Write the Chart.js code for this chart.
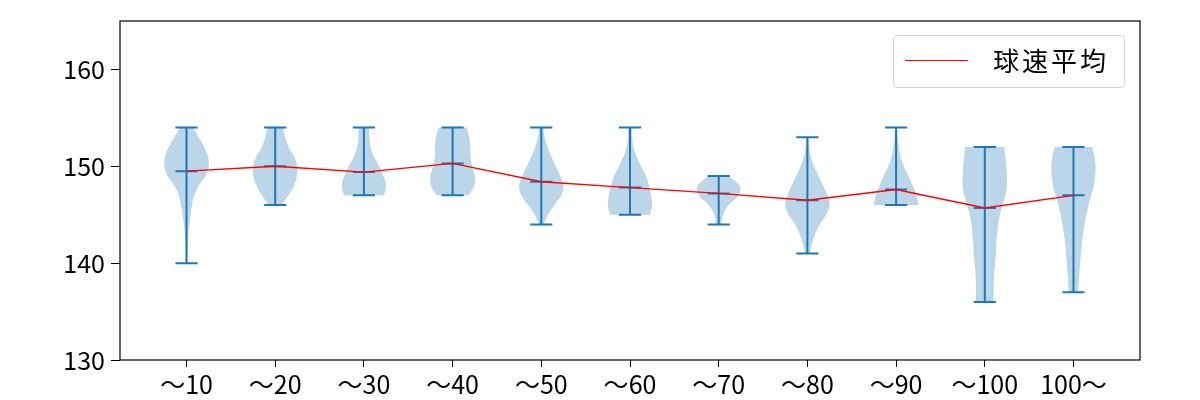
<!DOCTYPE html>
<html>
<head>
<meta charset="utf-8">
<script src="https://cdn.jsdelivr.net/npm/chart.js@4/dist/chart.umd.min.js"></script>
<style>
    html, body { margin: 0; padding: 0; background: #fff; }
    #wrap { position: relative; width: 1200px; height: 400px; }
    #legend {
        position: absolute; left: 893px; top: 35px; width: 232px; height: 53px;
        box-sizing: border-box; border: 1px solid #d5d5d5; border-radius: 4px;
        background: rgba(255,255,255,0.8);
        font-family: "Noto Sans CJK JP", sans-serif; font-size: 26px; color: #000;
    }
    #legend .swatch { position: absolute; left: 11px; top: 24px; width: 63px; height: 0; border-top: 1.4px solid #ff0000; }
    #legend .label { position: absolute; left: 99px; top: 6px; line-height: 36px; letter-spacing: 3px; }
</style>
</head>
<body>
<div id="wrap">
    <canvas id="chart" width="1200" height="400"></canvas>
    <div id="legend"><div class="swatch"></div><div class="label">球速平均</div></div>
</div>
<script>
// categories and stats per category
const categories = ['〜10', '〜20', '〜30', '〜40', '〜50', '〜60', '〜70', '〜80', '〜90', '〜100', '100〜'];
const minSpeed = [140, 146, 147, 147, 144, 145, 144, 141, 146, 136, 137];
const maxSpeed = [154, 154, 154, 154, 154, 154, 149, 153, 154, 152, 152];
const meanSpeed = [149.5, 150.0, 149.4, 150.3, 148.4, 147.8, 147.2, 146.5, 147.6, 145.7, 147.0];
const yTicks = [130, 140, 150, 160];

// relative violin width, one value per km/h from min to max
const density = [
    [0.03, 0.04, 0.05, 0.08, 0.12, 0.18, 0.25, 0.35, 0.55, 0.85, 1.0, 0.97, 0.8, 0.55, 0.3],
    [0.3, 0.6, 0.85, 0.98, 1.0, 0.85, 0.6, 0.45, 0.35],
    [0.9, 1.0, 0.88, 0.68, 0.45, 0.3, 0.25, 0.23],
    [0.72, 0.98, 1.0, 0.88, 0.8, 0.8, 0.75, 0.62],
    [0.1, 0.3, 0.6, 0.9, 1.0, 0.85, 0.65, 0.45, 0.28, 0.15, 0.1],
    [0.9, 1.0, 0.95, 0.85, 0.72, 0.5, 0.3, 0.15, 0.1, 0.08],
    [0.12, 0.2, 0.45, 0.9, 0.95, 0.45],
    [0.12, 0.2, 0.35, 0.55, 0.85, 1.0, 0.9, 0.72, 0.5, 0.3, 0.15, 0.08, 0.05],
    [1.0, 0.92, 0.75, 0.55, 0.35, 0.2, 0.12, 0.07, 0.05],
    [0.4, 0.4, 0.4, 0.42, 0.46, 0.5, 0.52, 0.56, 0.6, 0.68, 0.8, 0.93, 1.0, 1.0, 0.97, 0.93, 0.88],
    [0.2, 0.24, 0.27, 0.3, 0.34, 0.38, 0.43, 0.5, 0.58, 0.68, 0.8, 0.92, 0.98, 1.0, 0.95, 0.85]
];

const BLUE = '#1f77b4';
const FONT = '"Noto Sans CJK JP", sans-serif';

// smooth path through pixel points (catmull-rom)
function smoothPath(ctx, pts, first) {
    if (first) ctx.moveTo(pts[0][0], pts[0][1]);
    else ctx.lineTo(pts[0][0], pts[0][1]);
    for (let i = 0; i < pts.length - 1; i++) {
        const p0 = pts[Math.max(i - 1, 0)], p1 = pts[i], p2 = pts[i + 1], p3 = pts[Math.min(i + 2, pts.length - 1)];
        ctx.bezierCurveTo(
            p1[0] + (p2[0] - p0[0]) / 6, p1[1] + (p2[1] - p0[1]) / 6,
            p2[0] - (p3[0] - p1[0]) / 6, p2[1] - (p3[1] - p1[1]) / 6,
            p2[0], p2[1]);
    }
}

const violinPlugin = {
    id: 'violins',
    beforeDatasetsDraw(chart) {
        const { ctx, scales: { x, y } } = chart;
        ctx.save();
        categories.forEach((c, i) => {
            const pos = i + 1;
            const d = density[i];
            const right = d.map((w, k) => [x.getPixelForValue(pos + w * 0.25), y.getPixelForValue(minSpeed[i] + k)]);
            const left = d.map((w, k) => [x.getPixelForValue(pos - w * 0.25), y.getPixelForValue(minSpeed[i] + k)]).reverse();
            ctx.beginPath();
            smoothPath(ctx, right, true);
            smoothPath(ctx, left, false);
            ctx.closePath();
            ctx.fillStyle = 'rgba(31,119,180,0.3)';
            ctx.fill();
        });
        ctx.strokeStyle = BLUE;
        ctx.lineWidth = 2;
        categories.forEach((c, i) => {
            const pos = i + 1;
            const cx = x.getPixelForValue(pos);
            const x0 = x.getPixelForValue(pos - 0.125), x1 = x.getPixelForValue(pos + 0.125);
            ctx.beginPath();
            ctx.moveTo(cx, y.getPixelForValue(minSpeed[i]));
            ctx.lineTo(cx, y.getPixelForValue(maxSpeed[i]));
            [minSpeed[i], maxSpeed[i], meanSpeed[i]].forEach(v => {
                const py = y.getPixelForValue(v);
                ctx.moveTo(x0, py);
                ctx.lineTo(x1, py);
            });
            ctx.stroke();
        });
        ctx.restore();
    },
    afterDraw(chart) {
        const { ctx, chartArea: a } = chart;
        ctx.save();
        ctx.strokeStyle = '#000';
        ctx.lineWidth = 1.2;
        ctx.strokeRect(a.left, a.top, a.right - a.left, a.bottom - a.top);
        ctx.restore();
    }
};

new Chart(document.getElementById('chart'), {
    type: 'line',
    data: {
        datasets: [{
            label: '球速平均',
            data: meanSpeed.map((v, i) => ({ x: i + 1, y: v })),
            borderColor: '#ff0000',
            borderWidth: 1.4,
            pointRadius: 0,
            tension: 0
        }]
    },
    options: {
        responsive: false,
        animation: false,
        layout: { padding: { left: 0, right: 60, top: 20, bottom: 0 } },
        plugins: { legend: { display: false }, tooltip: { enabled: false } },
        scales: {
            x: {
                type: 'linear',
                min: 0.25,
                max: 11.75,
                afterBuildTicks: axis => { axis.ticks = categories.map((c, i) => ({ value: i + 1 })); },
                afterFit: axis => { axis.height = 40; },
                ticks: {
                    autoSkip: false,
                    maxRotation: 0,
                    padding: 2,
                    color: '#000',
                    font: { family: FONT, size: 25 },
                    callback: v => categories[v - 1]
                },
                grid: { display: true, drawOnChartArea: false, drawTicks: true, tickLength: 7, color: '#000' },
                border: { display: false }
            },
            y: {
                min: 130,
                max: 165,
                afterBuildTicks: axis => { axis.ticks = yTicks.map(v => ({ value: v })); },
                afterFit: axis => { axis.width = 120; },
                ticks: {
                    padding: 6,
                    color: '#000',
                    font: { family: FONT, size: 25 }
                },
                grid: { display: true, drawOnChartArea: false, drawTicks: true, tickLength: 9, color: '#000' },
                border: { display: false }
            }
        }
    },
    plugins: [violinPlugin]
});
</script>
</body>
</html>
